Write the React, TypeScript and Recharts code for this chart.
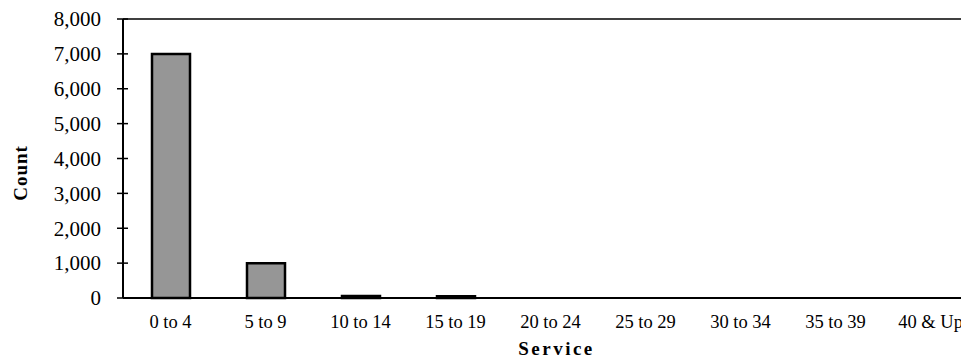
import React from 'react';
import { BarChart, Bar, XAxis, YAxis, ReferenceLine, Label } from 'recharts';

const categories = ['0 to 4', '5 to 9', '10 to 14', '15 to 19', '20 to 24', '25 to 29', '30 to 34', '35 to 39', '40 & Up'];
const counts = [7000, 1000, 55, 50, 0, 0, 0, 0, 0];
const yTicks = [0, 1000, 2000, 3000, 4000, 5000, 6000, 7000, 8000];

const data = categories.map((c, i) => ({ name: c, count: counts[i] }));

const FONT = 'Liberation Serif, Times New Roman, Times, serif';

const YTick = (props: any) => {
  const { x, y, payload } = props;
  const axisX = x + 23;
  return (
    <g>
      <line x1={axisX - 6} x2={axisX + 5} y1={y} y2={y} stroke="#000" strokeWidth={1.5} />
      <text x={x + 1} y={y} dy="0.35em" textAnchor="end" style={{ fontFamily: FONT }} fontSize={21} fill="#000">
        {Number(payload.value).toLocaleString('en-US')}
      </text>
    </g>
  );
};

const XTick = (props: any) => {
  const { x, y, payload } = props;
  return (
    <text x={x} y={y} dy="0.71em" textAnchor="middle" style={{ fontFamily: FONT }} fontSize={18.5} fill="#000">
      {payload.value}
    </text>
  );
};

export default function App() {
  return (
    <div style={{ width: 961, height: 350, overflow: 'hidden', fontFamily: FONT }}>
      <BarChart width={970} height={350} data={data} margin={{ top: 11, right: 0, bottom: 0, left: 0 }} barSize={38}>
        <XAxis
          dataKey="name"
          height={60}
          axisLine={{ stroke: '#000', strokeWidth: 2 }}
          tickLine={false}
          tickSize={0}
          tickMargin={17}
          tick={<XTick />}
          interval={0}
        >
          <Label
            content={(p: any) => {
              const vb = p.viewBox;
              return (
                <text x={vb.x + vb.width / 2 + 6} y={347} textAnchor="middle" style={{ fontFamily: FONT }} fontSize={19} fontWeight="bold" letterSpacing={2.5} fill="#000">
                  Service
                </text>
              );
            }}
          />
        </XAxis>
        <YAxis
          width={115}
          domain={[0, 8000]}
          ticks={yTicks}
          interval={0}
          axisLine={{ stroke: '#000', strokeWidth: 2 }}
          tickLine={false}
          tickSize={6}
          tickMargin={17}
          tick={<YTick />}
        >
          <Label
            content={() => (
              <text x={12} y={165} transform="rotate(-90 12 165)" textAnchor="middle" dy="0.35em" style={{ fontFamily: FONT }} fontSize={19} fontWeight="bold" letterSpacing={1} fill="#000">
                Count
              </text>
            )}
          />
        </YAxis>
        <ReferenceLine y={8000} stroke="#000" strokeWidth={1.5} ifOverflow="extendDomain" />
        <Bar dataKey="count" fill="#969696" stroke="#000" strokeWidth={2.5} isAnimationActive={false} />
      </BarChart>
    </div>
  );
}
